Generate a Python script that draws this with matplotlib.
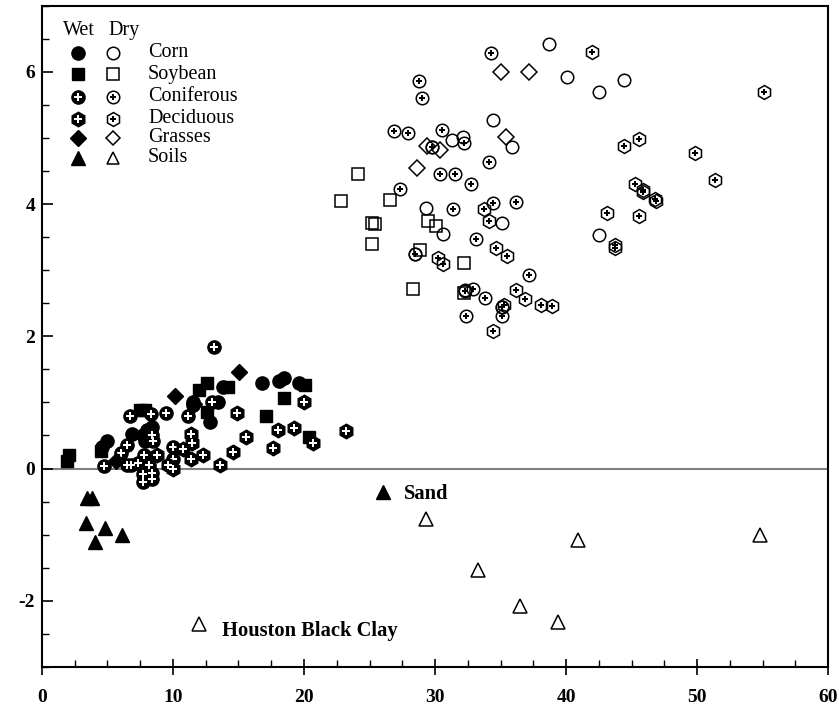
import matplotlib
matplotlib.use("Agg")
import matplotlib.pyplot as plt
from matplotlib.ticker import MultipleLocator

plt.rcParams['font.family'] = ['Liberation Serif', 'DejaVu Serif']
plt.rcParams['axes.unicode_minus'] = False

# ---- wet samples (filled) ----
corn_wet_x = [16.8, 18.1, 18.5, 19.6, 12.8, 13.8, 11.5, 13.4, 4.55, 4.95, 6.85, 8.0, 8.4, 11.5, 7.9, 7.7]
corn_wet_y = [1.30, 1.33, 1.37, 1.30, 0.70, 1.23, 1.00, 1.00, 0.32, 0.41, 0.52, 0.58, 0.63, 0.96, 0.42, 0.50]

soy_wet_x = [1.88, 2.09, 4.5, 7.5, 7.85, 12.0, 12.6, 14.2, 18.5, 17.1, 20.1, 20.4, 12.6]
soy_wet_y = [0.12, 0.21, 0.27, 0.88, 0.88, 1.19, 1.29, 1.23, 1.07, 0.80, 1.27, 0.48, 0.85]

conif_wet_x = [13.1, 4.73, 6.03, 6.46, 6.72, 8.32, 9.5, 11.17, 12.95, 7.8, 8.17, 7.68, 8.37, 7.73,
               8.37, 6.5, 6.8, 7.35, 8.4, 8.5, 9.97, 10.0]
conif_wet_y = [1.84, 0.04, 0.23, 0.35, 0.79, 0.83, 0.84, 0.80, 1.00, 0.21, 0.05, -0.08, -0.16, -0.21,
               -0.06, 0.06, 0.05, 0.08, 0.50, 0.42, 0.33, 0.15]

decid_wet_x = [14.86, 18.0, 19.26, 20.7, 23.2, 15.57, 14.6, 17.6, 13.6, 12.3, 8.75, 9.6, 9.97,
               10.8, 11.4, 11.45, 11.4, 20.0]
decid_wet_y = [0.84, 0.59, 0.61, 0.38, 0.57, 0.48, 0.25, 0.31, 0.06, 0.21, 0.20, 0.05, 0.00,
               0.30, 0.52, 0.38, 0.15, 1.00]

grass_wet_x = [5.65, 10.15, 15.06, 11.6]
grass_wet_y = [0.12, 1.09, 1.46, 0.97]

soil_wet_x = [3.41, 3.85, 3.33, 4.83, 4.06, 6.14, 26.0]
soil_wet_y = [-0.44, -0.45, -0.82, -0.90, -1.11, -1.01, -0.36]

# ---- dry samples (open) ----
corn_dry_x = [38.7, 40.1, 42.5, 44.45, 34.4, 31.3, 32.1, 29.8, 35.9, 29.3, 30.6, 35.1, 42.5, 28.5, 32.3, 35.1]
corn_dry_y = [6.42, 5.92, 5.70, 5.87, 5.27, 4.97, 5.01, 4.87, 4.86, 3.94, 3.55, 3.72, 3.53, 3.25, 2.70, 2.44]

soy_dry_x = [24.1, 22.8, 26.6, 25.2, 25.4, 25.2, 29.5, 30.1, 28.85, 32.2, 28.3, 32.2]
soy_dry_y = [4.46, 4.04, 4.06, 3.71, 3.70, 3.39, 3.74, 3.67, 3.30, 3.11, 2.72, 2.66]

conif_dry_x = [34.27, 28.8, 29.0, 26.9, 27.9, 30.5, 32.2, 29.8, 34.1, 30.4, 31.5, 32.75, 27.35,
               31.4, 34.45, 36.2, 33.1, 37.2, 32.9, 33.8, 32.4, 35.1, 32.3, 28.5, 35.1]
conif_dry_y = [6.28, 5.86, 5.60, 5.11, 5.08, 5.12, 4.93, 4.87, 4.64, 4.46, 4.45, 4.30, 4.23,
               3.92, 4.01, 4.03, 3.47, 2.93, 2.71, 2.58, 2.31, 2.31, 2.69, 3.25, 2.44]

decid_dry_x = [42.0, 55.1, 44.4, 45.6, 49.85, 51.4, 45.3, 45.85, 45.9, 46.9, 46.8, 43.15, 45.6,
               43.7, 43.7, 33.7, 34.1, 34.65, 35.5, 30.2, 30.6, 36.2, 36.85, 38.1, 38.95, 35.3, 34.45]
decid_dry_y = [6.30, 5.69, 4.88, 4.99, 4.77, 4.37, 4.30, 4.21, 4.18, 4.05, 4.07, 3.86, 3.82,
               3.38, 3.33, 3.93, 3.74, 3.33, 3.22, 3.19, 3.10, 2.70, 2.57, 2.48, 2.46, 2.47, 2.08]

grass_dry_x = [35.04, 37.2, 29.4, 30.4, 35.4, 28.6]
grass_dry_y = [6.00, 6.00, 4.88, 4.81, 5.02, 4.55]

soil_dry_x = [29.3, 33.3, 36.5, 39.4, 40.9, 54.8, 12.0]
soil_dry_y = [-0.77, -1.54, -2.08, -2.32, -1.08, -1.00, -2.35]

labels = ["Corn", "Soybean", "Coniferous", "Deciduous", "Grasses", "Soils"]

fig = plt.figure(figsize=(8.39, 7.08), dpi=100)
ax = fig.add_axes([0.050, 0.058, 0.937, 0.934])

ax.axhline(0, color='#808080', lw=1.5, zorder=1)

ms = 9.5
ew = 1.1

# wet
ax.plot(corn_wet_x, corn_wet_y, 'o', color='black', ms=ms, zorder=3)
ax.plot(soy_wet_x, soy_wet_y, 's', color='black', ms=ms - 1, zorder=3)
ax.plot(conif_wet_x, conif_wet_y, 'o', color='black', ms=ms, zorder=3)
ax.plot(conif_wet_x, conif_wet_y, 'P', color='white', mew=0, ms=5.5, zorder=3)
ax.plot(decid_wet_x, decid_wet_y, 'h', color='black', ms=ms + 1, zorder=3)
ax.plot(decid_wet_x, decid_wet_y, 'P', color='white', mew=0, ms=5.5, zorder=3)
ax.plot(grass_wet_x, grass_wet_y, 'D', color='black', ms=ms - 1.5, zorder=3)
ax.plot(soil_wet_x, soil_wet_y, '^', color='black', ms=ms, zorder=3)

# dry
ax.plot(corn_dry_x, corn_dry_y, 'o', mfc='none', mec='black', mew=ew, ms=ms - 0.5, zorder=3)
ax.plot(soy_dry_x, soy_dry_y, 's', mfc='none', mec='black', mew=ew, ms=ms - 1, zorder=3)
ax.plot(conif_dry_x, conif_dry_y, 'o', mfc='none', mec='black', mew=ew, ms=ms - 0.5, zorder=3)
ax.plot(conif_dry_x, conif_dry_y, 'P', color='black', mew=0, ms=5, zorder=3)
ax.plot(decid_dry_x, decid_dry_y, 'h', mfc='none', mec='black', mew=ew, ms=ms + 0.5, zorder=3)
ax.plot(decid_dry_x, decid_dry_y, 'P', color='black', mew=0, ms=5, zorder=3)
ax.plot(grass_dry_x, grass_dry_y, 'D', mfc='none', mec='black', mew=ew, ms=ms - 1.5, zorder=3)
ax.plot(soil_dry_x, soil_dry_y, '^', mfc='none', mec='black', mew=ew, ms=ms, zorder=3)

ax.text(27.6, -0.39, "Sand", fontsize=14.8, fontweight='bold', va='center', ha='left')
ax.text(13.75, -2.45, "Houston Black Clay", fontsize=14.8, fontweight='bold', va='center', ha='left')

# legend key drawn by hand (wet column, dry column, names)
tr = ax.transAxes
ax.text(0.027, 0.962, "Wet", transform=tr, fontsize=14.5, va='center', ha='left')
ax.text(0.084, 0.962, "Dry", transform=tr, fontsize=14.5, va='center', ha='left')
rows = [0.929, 0.896, 0.862, 0.829, 0.800, 0.770]
wx, dx, lx = 0.0458, 0.0903, 0.135
key = [('o', ms, None), ('s', ms - 1, None), ('o', ms, 'P'), ('h', ms + 1, 'P'), ('D', ms - 1.5, None), ('^', ms, None)]
for (mk, size, inner), yy, name in zip(key, rows, labels):
    ax.plot([wx], [yy], mk, color='black', ms=size, transform=tr, clip_on=False)
    ax.plot([dx], [yy], mk, mfc='none', mec='black', mew=ew, ms=size - 0.5, transform=tr, clip_on=False)
    if inner:
        ax.plot([wx], [yy], inner, color='white', mew=0, ms=5.5, transform=tr, clip_on=False)
        ax.plot([dx], [yy], inner, color='black', mew=0, ms=5, transform=tr, clip_on=False)
    ax.text(lx, yy, name, transform=tr, fontsize=14.5, va='center', ha='left')

ax.set_xlim(0, 60)
ax.set_ylim(-3, 7)
ax.xaxis.set_major_locator(MultipleLocator(10))
ax.xaxis.set_minor_locator(MultipleLocator(2.5))
ax.yaxis.set_major_locator(MultipleLocator(2))
ax.yaxis.set_minor_locator(MultipleLocator(0.5))
ax.tick_params(axis='x', which='major', direction='inout', length=12, width=1.2, labelsize=14, pad=10)
ax.tick_params(axis='y', which='major', direction='in', length=8, width=1.2, labelsize=14, pad=5)
ax.tick_params(which='minor', direction='in', length=5, width=1.0)
for lab in ax.get_xticklabels() + ax.get_yticklabels():
    lab.set_fontweight('bold')
for sp in ax.spines.values():
    sp.set_linewidth(1.5)

fig.savefig("out.png", dpi=100)
